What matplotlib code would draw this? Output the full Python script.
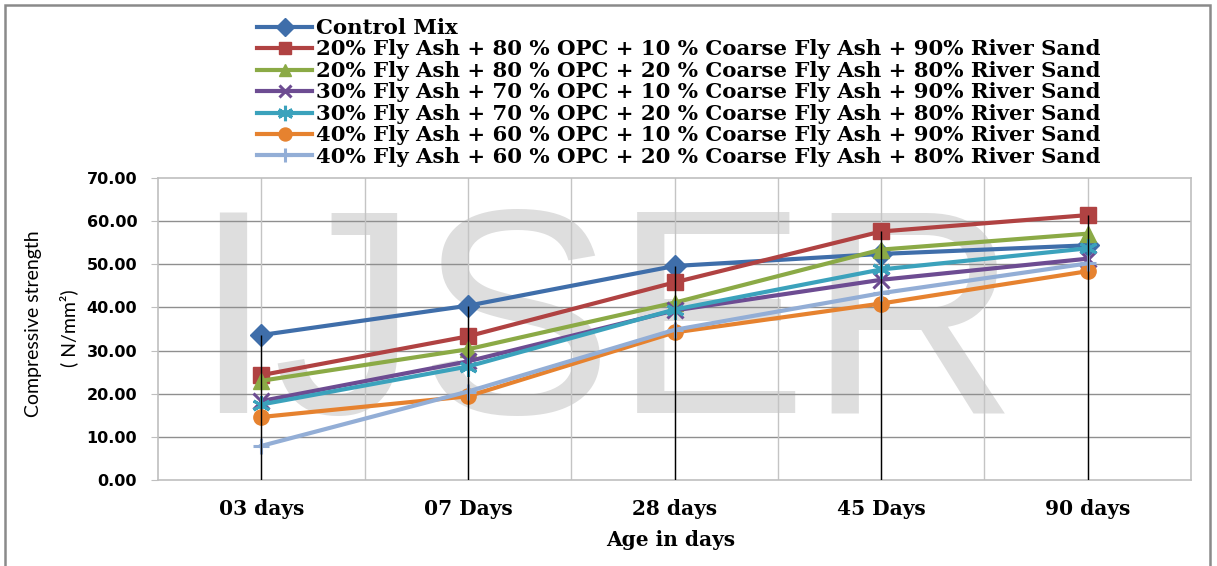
import matplotlib
matplotlib.use("Agg")
import matplotlib.pyplot as plt
from matplotlib.patches import Rectangle

W, H = 1217, 566

ages = ["03 days", "07 Days", "28 days", "45 Days", "90 days"]
control_mix = [33.6, 40.4, 49.6, 52.4, 54.4]
fa20_cfa10 = [24.3, 33.3, 45.8, 57.6, 61.4]
fa20_cfa20 = [23.0, 30.3, 41.1, 53.4, 57.1]
fa30_cfa10 = [18.3, 27.5, 39.3, 46.4, 51.3]
fa30_cfa20 = [17.5, 26.3, 39.5, 48.8, 53.7]
fa40_cfa10 = [14.6, 19.4, 34.2, 40.9, 48.4]
fa40_cfa20 = [7.9, 20.5, 34.8, 43.3, 50.2]

labels = [
    "Control Mix",
    "20% Fly Ash + 80 % OPC + 10 % Coarse Fly Ash + 90% River Sand",
    "20% Fly Ash + 80 % OPC + 20 % Coarse Fly Ash + 80% River Sand",
    "30% Fly Ash + 70 % OPC + 10 % Coarse Fly Ash + 90% River Sand",
    "30% Fly Ash + 70 % OPC + 20 % Coarse Fly Ash + 80% River Sand",
    "40% Fly Ash + 60 % OPC + 10 % Coarse Fly Ash + 90% River Sand",
    "40% Fly Ash + 60 % OPC + 20 % Coarse Fly Ash + 80% River Sand",
]
series = [control_mix, fa20_cfa10, fa20_cfa20, fa30_cfa10, fa30_cfa20, fa40_cfa10, fa40_cfa20]
colors = ["#3F6EAA", "#B04242", "#8BAA46", "#6D4C92", "#3BA2BC", "#E6822F", "#93AED6"]
markers = ["D", "s", "^", "x", (6, 2, 0), "o", "+"]
msizes = [11, 11, 11, 11, 13, 11, 12]

fig = plt.figure(figsize=(W / 100, H / 100), dpi=100)
ax = fig.add_axes([158 / W, 1 - 480 / H, (1191 - 158) / W, (480 - 178) / H])

# watermark
ax.text(192 / W, 1 - 413 / H, "IJSER", transform=fig.transFigure, family="Liberation Sans",
        fontsize=210, color="#DEDEDE", ha="left", va="baseline", zorder=0.1)

x = list(range(len(ages)))
for vals, lab, c, m, ms in zip(series, labels, colors, markers, msizes):
    thin = m in ("x", "+") or isinstance(m, tuple)
    ax.plot(x, vals, color=c, lw=3, marker=m, ms=ms, mew=2.2 if thin else 1,
            mec=c, mfc=c, label=lab, zorder=3)

# drop lines to the axis
tops = [max(v) for v in zip(*series)]
ax.vlines(x, 0, tops, color="black", lw=1, zorder=4)

ax.set_xlim(-0.5, 4.5)
ax.set_ylim(0, 70)
ax.set_yticks(range(0, 71, 10))
ax.set_yticklabels([f"{v:.2f}" for v in range(0, 71, 10)], family="DejaVu Sans",
                   fontweight="bold", fontsize=11.5)
ax.set_xticks(x)
ax.set_xticklabels(ages, family="DejaVu Serif", fontweight="bold", fontsize=14.5)
ax.tick_params(axis="x", length=0, pad=14)
ax.tick_params(axis="y", length=5, color="#BFBFBF", pad=10)

for yv in range(10, 70, 10):
    ax.axhline(yv, color="#8F8F8F", lw=1, zorder=1)
for xv in [i * 0.5 - 0.5 for i in range(1, 10)]:
    ax.axvline(xv, color="#C4C4C4", lw=1, zorder=1)
for s in ax.spines.values():
    s.set_color("#BFBFBF")
    s.set_linewidth(1.2)

fig.text(671 / W, 1 - 540 / H, "Age in days", family="DejaVu Serif", fontweight="bold",
         fontsize=14.5, ha="center", va="center")
fig.text(34 / W, 1 - 324 / H, "Compressive strength", family="Lato", fontsize=14,
         rotation=90, ha="center", va="center")
fig.text(69 / W, 1 - 328 / H, "( N/mm²)", family="Lato", fontsize=14,
         rotation=90, ha="center", va="center")

fig.legend(loc="upper left", bbox_to_anchor=(257 / W, 1 - 18 / H), frameon=False,
           prop={"family": "DejaVu Serif", "weight": "bold", "size": 15.3},
           handlelength=2.6, handletextpad=0.2, labelspacing=0.07, borderpad=0,
           borderaxespad=0, markerscale=0.85)

fig.patches.append(Rectangle((5 / W, -0.02), 1205 / W, 1 - 5 / H + 0.02, transform=fig.transFigure,
                             fill=False, ec="#8A8A8A", lw=1.8))

fig.savefig("out.png", dpi=100)
